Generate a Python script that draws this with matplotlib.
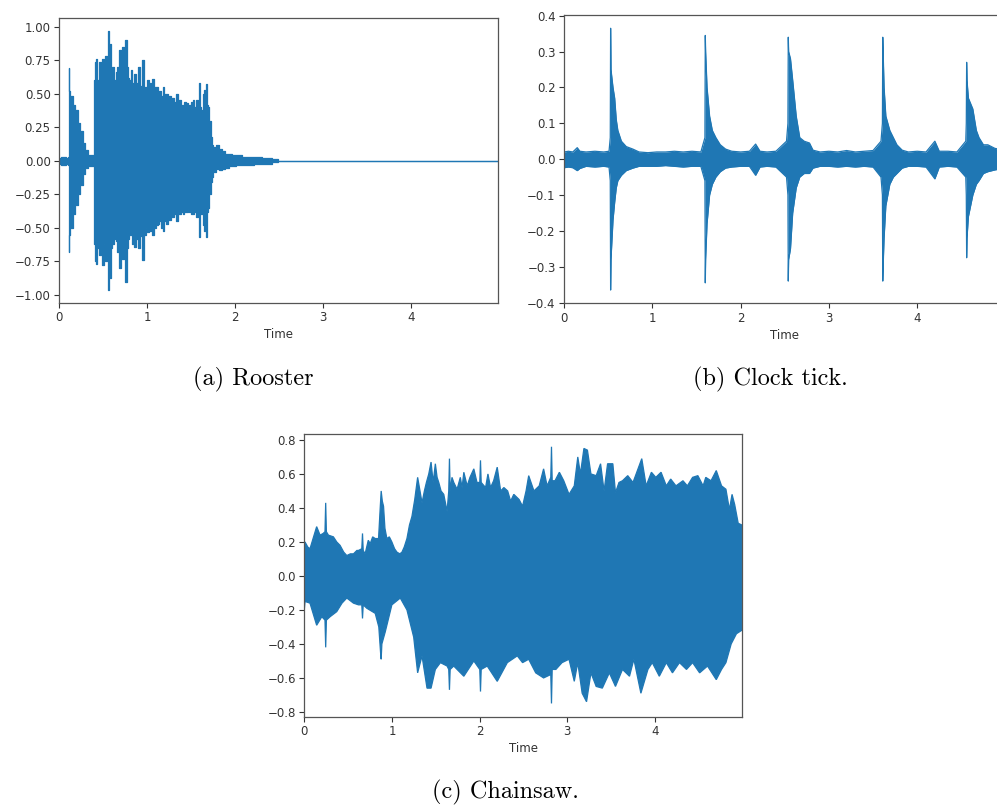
import numpy as np
import matplotlib
matplotlib.use("Agg")
import matplotlib.pyplot as plt

# ---------------- data (envelopes) ----------------
# (a) Rooster: time (s), upper envelope, lower envelope
rooster_t = [0.00, 0.05, 0.10, 0.110, 0.114, 0.120, 0.141, 0.170, 0.198, 0.230, 0.255, 0.285,
             0.312, 0.350, 0.388, 0.400, 0.407, 0.415, 0.426, 0.440, 0.464, 0.480, 0.502, 0.515,
             0.532, 0.548, 0.559, 0.570, 0.589, 0.600, 0.616, 0.635, 0.654, 0.675, 0.692, 0.710,
             0.730, 0.745, 0.760, 0.775, 0.787, 0.805, 0.825, 0.845, 0.863, 0.885, 0.913, 0.935,
             0.958, 0.975, 0.996, 1.015, 1.034, 1.050, 1.072, 1.090, 1.110, 1.130, 1.148, 1.170,
             1.186, 1.205, 1.224, 1.245, 1.262, 1.280, 1.300, 1.320, 1.338, 1.360, 1.376, 1.395,
             1.414, 1.435, 1.452, 1.475, 1.490, 1.510, 1.529, 1.550, 1.567, 1.585, 1.597, 1.610,
             1.624, 1.640, 1.650, 1.660, 1.673, 1.690, 1.700, 1.719, 1.730, 1.738, 1.760, 1.776,
             1.800, 1.833, 1.870, 1.909, 1.950, 1.985, 2.050, 2.100, 2.175, 2.250, 2.365, 2.479,
             2.500, 4.990]
rooster_up = [0.02, 0.03, 0.02, 0.03, 0.69, 0.52, 0.48, 0.42, 0.38, 0.28, 0.22, 0.13,
              0.08, 0.04, 0.04, 0.30, 0.60, 0.74, 0.76, 0.60, 0.74, 0.62, 0.76, 0.65,
              0.78, 0.70, 0.97, 0.72, 0.87, 0.65, 0.70, 0.60, 0.66, 0.70, 0.83, 0.72,
              0.85, 0.68, 0.90, 0.70, 0.62, 0.60, 0.68, 0.58, 0.65, 0.58, 0.70, 0.56,
              0.75, 0.55, 0.55, 0.60, 0.58, 0.52, 0.61, 0.55, 0.55, 0.50, 0.52, 0.48,
              0.55, 0.50, 0.50, 0.46, 0.48, 0.45, 0.47, 0.44, 0.50, 0.44, 0.45, 0.42,
              0.42, 0.44, 0.43, 0.41, 0.42, 0.44, 0.45, 0.40, 0.45, 0.42, 0.58, 0.40,
              0.38, 0.50, 0.53, 0.45, 0.57, 0.42, 0.40, 0.30, 0.18, 0.12, 0.10, 0.08,
              0.12, 0.09, 0.07, 0.05, 0.05, 0.04, 0.04, 0.03, 0.03, 0.03, 0.02, 0.01,
              0.0, 0.0]
rooster_lo = [-0.02, -0.03, -0.02, -0.03, -0.68, -0.55, -0.50, -0.40, -0.33, -0.25, -0.18, -0.10,
              -0.05, -0.04, -0.04, -0.30, -0.62, -0.75, -0.77, -0.65, -0.70, -0.68, -0.78, -0.62,
              -0.75, -0.72, -0.96, -0.70, -0.87, -0.65, -0.62, -0.58, -0.60, -0.68, -0.80, -0.70,
              -0.73, -0.65, -0.90, -0.65, -0.58, -0.55, -0.55, -0.62, -0.64, -0.58, -0.65, -0.56,
              -0.74, -0.55, -0.50, -0.53, -0.52, -0.48, -0.55, -0.50, -0.48, -0.47, -0.45, -0.50,
              -0.52, -0.45, -0.47, -0.44, -0.44, -0.42, -0.42, -0.40, -0.45, -0.40, -0.40, -0.38,
              -0.40, -0.38, -0.38, -0.36, -0.38, -0.40, -0.40, -0.38, -0.42, -0.40, -0.57, -0.40,
              -0.40, -0.48, -0.52, -0.45, -0.57, -0.38, -0.35, -0.25, -0.16, -0.12, -0.08, -0.08,
              -0.06, -0.07, -0.06, -0.05, -0.04, -0.04, -0.03, -0.03, -0.03, -0.02, -0.02, -0.01,
              0.0, 0.0]

# (b) Clock tick
clock_t = [0.00, 0.05, 0.10, 0.15, 0.18, 0.25, 0.35, 0.45, 0.51, 0.524, 0.528, 0.532,
           0.555, 0.574, 0.592, 0.61, 0.65, 0.705, 0.78, 0.85, 0.95, 1.05, 1.15, 1.25,
           1.35, 1.45, 1.55, 1.596, 1.60, 1.604, 1.620, 1.649, 1.68, 1.72, 1.77, 1.83, 1.90,
           2.00, 2.10, 2.17, 2.22, 2.30, 2.40, 2.52, 2.536, 2.540, 2.544, 2.565, 2.59, 2.63, 2.67,
           2.72, 2.78, 2.82, 2.90, 3.00, 3.10, 3.20, 3.30, 3.40, 3.50, 3.59, 3.606, 3.61,
           3.614, 3.625, 3.645, 3.69, 3.73, 3.77, 3.83, 3.90, 4.00, 4.10, 4.20, 4.25, 4.35,
           4.45, 4.55, 4.556, 4.56, 4.564, 4.58, 4.63, 4.67, 4.70, 4.75, 4.80, 4.88, 4.99]
clock_up = [0.020, 0.022, 0.020, 0.032, 0.022, 0.020, 0.022, 0.020, 0.022, 0.06, 0.365, 0.25,
            0.20, 0.17, 0.11, 0.08, 0.05, 0.035, 0.028, 0.020, 0.018, 0.020, 0.020, 0.022,
            0.020, 0.022, 0.020, 0.06, 0.345, 0.30, 0.20, 0.12, 0.08, 0.06, 0.04, 0.028, 0.022,
            0.020, 0.022, 0.042, 0.022, 0.020, 0.022, 0.05, 0.10, 0.34, 0.30, 0.28, 0.22, 0.12, 0.06,
            0.05, 0.045, 0.025, 0.020, 0.022, 0.020, 0.024, 0.020, 0.022, 0.024, 0.05, 0.10, 0.34,
            0.30, 0.20, 0.12, 0.08, 0.06, 0.04, 0.025, 0.020, 0.022, 0.020, 0.05, 0.022, 0.022,
            0.020, 0.05, 0.10, 0.27, 0.22, 0.17, 0.14, 0.08, 0.06, 0.04, 0.04, 0.03, 0.025]
clock_lo = [-0.024, -0.022, -0.024, -0.032, -0.026, -0.020, -0.022, -0.020, -0.022, -0.06, -0.365, -0.28,
            -0.17, -0.12, -0.08, -0.06, -0.045, -0.032, -0.025, -0.020, -0.020, -0.020, -0.018, -0.020,
            -0.022, -0.020, -0.020, -0.06, -0.345, -0.28, -0.18, -0.10, -0.07, -0.05, -0.035, -0.025, -0.022,
            -0.020, -0.020, -0.045, -0.022, -0.020, -0.022, -0.05, -0.10, -0.34, -0.28, -0.25, -0.15, -0.08, -0.05,
            -0.04, -0.04, -0.025, -0.020, -0.020, -0.022, -0.020, -0.022, -0.020, -0.022, -0.05, -0.10, -0.34,
            -0.30, -0.22, -0.13, -0.07, -0.05, -0.04, -0.025, -0.020, -0.020, -0.022, -0.055, -0.022, -0.020,
            -0.022, -0.05, -0.10, -0.275, -0.22, -0.16, -0.10, -0.07, -0.06, -0.04, -0.035, -0.03, -0.025]

# (c) Chainsaw: upper envelope and lower envelope, each with its own time points
saw_up_t = [0.000, 0.008, 0.040, 0.065, 0.100, 0.141, 0.180, 0.215, 0.236, 0.244, 0.252, 0.275,
            0.332, 0.370, 0.408, 0.450, 0.485, 0.525, 0.561, 0.600, 0.618, 0.656, 0.664, 0.672,
            0.694, 0.730, 0.752, 0.780, 0.809, 0.847, 0.866, 0.877, 0.890, 0.904, 0.920, 0.942,
            0.970, 0.999, 1.030, 1.057, 1.090, 1.114, 1.140, 1.171, 1.200, 1.228, 1.260, 1.293,
            1.320, 1.343, 1.370, 1.393, 1.420, 1.446, 1.470, 1.495, 1.515, 1.534, 1.560, 1.591,
            1.629, 1.648, 1.656, 1.664, 1.685, 1.705, 1.743, 1.780, 1.800, 1.820, 1.858, 1.890,
            1.934, 1.970, 2.002, 2.010, 2.018, 2.068, 2.095, 2.125, 2.160, 2.201, 2.240, 2.277,
            2.320, 2.354, 2.390, 2.410, 2.450, 2.490, 2.530, 2.560, 2.620, 2.680, 2.730, 2.770,
            2.812, 2.820, 2.828, 2.860, 2.910, 2.960, 3.020, 3.080, 3.120, 3.150, 3.190, 3.230,
            3.270, 3.330, 3.380, 3.420, 3.460, 3.520, 3.550, 3.590, 3.630, 3.690, 3.750, 3.800,
            3.850, 3.900, 3.960, 4.010, 4.070, 4.130, 4.180, 4.240, 4.320, 4.370, 4.430, 4.490,
            4.550, 4.580, 4.640, 4.700, 4.760, 4.810, 4.850, 4.880, 4.910, 4.950, 4.990]
saw_up = [0.19, 0.20, 0.17, 0.16, 0.22, 0.29, 0.24, 0.25, 0.26, 0.43, 0.26, 0.24,
          0.23, 0.20, 0.18, 0.14, 0.12, 0.13, 0.13, 0.15, 0.15, 0.16, 0.25, 0.15,
          0.13, 0.21, 0.19, 0.23, 0.22, 0.22, 0.40, 0.50, 0.44, 0.41, 0.28, 0.22,
          0.23, 0.20, 0.16, 0.14, 0.13, 0.14, 0.17, 0.22, 0.30, 0.35, 0.45, 0.58,
          0.50, 0.43, 0.50, 0.55, 0.60, 0.67, 0.55, 0.66, 0.58, 0.55, 0.50, 0.48,
          0.38, 0.50, 0.69, 0.50, 0.58, 0.55, 0.51, 0.58, 0.52, 0.61, 0.53, 0.58,
          0.63, 0.55, 0.55, 0.68, 0.55, 0.52, 0.60, 0.52, 0.56, 0.64, 0.50, 0.52,
          0.50, 0.44, 0.48, 0.47, 0.45, 0.41, 0.50, 0.59, 0.50, 0.53, 0.63, 0.53,
          0.58, 0.76, 0.56, 0.56, 0.61, 0.56, 0.48, 0.53, 0.70, 0.60, 0.75, 0.74,
          0.60, 0.59, 0.66, 0.50, 0.66, 0.66, 0.49, 0.55, 0.56, 0.59, 0.55, 0.62,
          0.69, 0.53, 0.61, 0.58, 0.61, 0.53, 0.57, 0.53, 0.56, 0.53, 0.58, 0.59,
          0.53, 0.58, 0.56, 0.62, 0.53, 0.51, 0.39, 0.48, 0.42, 0.31, 0.30]
saw_lo_t = [0.000, 0.008, 0.065, 0.141, 0.200, 0.236, 0.244, 0.252, 0.294, 0.370, 0.430, 0.485,
            0.561, 0.618, 0.656, 0.664, 0.672, 0.713, 0.809, 0.850, 0.870, 0.877, 0.885, 0.923,
            0.999, 1.095, 1.171, 1.248, 1.293, 1.343, 1.400, 1.446, 1.495, 1.553, 1.629, 1.648,
            1.656, 1.664, 1.705, 1.820, 1.934, 2.002, 2.010, 2.018, 2.087, 2.201, 2.316, 2.430,
            2.490, 2.560, 2.640, 2.730, 2.812, 2.820, 2.828, 2.870, 2.940, 3.020, 3.080, 3.120,
            3.170, 3.220, 3.270, 3.330, 3.400, 3.480, 3.550, 3.630, 3.710, 3.760, 3.840, 3.920,
            3.970, 4.050, 4.130, 4.200, 4.280, 4.360, 4.430, 4.510, 4.600, 4.700, 4.760, 4.810,
            4.870, 4.930, 4.990]
saw_lo = [-0.20, -0.15, -0.16, -0.29, -0.24, -0.26, -0.42, -0.26, -0.24, -0.21, -0.16, -0.13,
          -0.16, -0.17, -0.17, -0.25, -0.17, -0.19, -0.22, -0.30, -0.45, -0.49, -0.40, -0.33,
          -0.17, -0.13, -0.20, -0.36, -0.57, -0.47, -0.66, -0.66, -0.55, -0.51, -0.53, -0.55,
          -0.67, -0.55, -0.53, -0.59, -0.50, -0.55, -0.68, -0.55, -0.53, -0.62, -0.51, -0.47,
          -0.51, -0.49, -0.57, -0.60, -0.58, -0.75, -0.55, -0.55, -0.51, -0.49, -0.62, -0.51,
          -0.69, -0.74, -0.57, -0.65, -0.66, -0.57, -0.65, -0.55, -0.59, -0.49, -0.69, -0.55,
          -0.51, -0.59, -0.51, -0.57, -0.51, -0.55, -0.51, -0.57, -0.53, -0.61, -0.55, -0.51,
          -0.40, -0.34, -0.32]

captions = ["(a) Rooster", "(b) Clock tick.", "(c) Chainsaw."]
xticks = [0, 1, 2, 3, 4]
yticks_a = [-1.00, -0.75, -0.50, -0.25, 0.00, 0.25, 0.50, 0.75, 1.00]
yticks_b = [-0.4, -0.3, -0.2, -0.1, 0.0, 0.1, 0.2, 0.3, 0.4]
yticks_c = [-0.8, -0.6, -0.4, -0.2, 0.0, 0.2, 0.4, 0.6, 0.8]

# ---------------- drawing ----------------
BLUE = "#1f77b4"
W, H = 997, 806
fig = plt.figure(figsize=(W / 100, H / 100), dpi=100)
fig.patch.set_facecolor("white")

def px_axes(left, top, right, bottom):
    return fig.add_axes([left / W, 1 - bottom / H, (right - left) / W, (bottom - top) / H])

def style(ax, yticks, fmt, ylim):
    ax.set_xlim(0, 4.99)
    ax.set_ylim(*ylim)
    ax.set_xticks(xticks)
    ax.set_xticklabels([str(v) for v in xticks])
    ax.set_yticks(yticks)
    ax.set_yticklabels([fmt.format(v).replace("-", "\u2212") for v in yticks])
    ax.tick_params(labelsize=8.5, colors="#333333", length=3.5, width=0.8, pad=2.5)
    for s in ax.spines.values():
        s.set_color("#555555")
        s.set_linewidth(0.9)
    ax.set_xlabel("Time", fontsize=8.5, color="#333333", labelpad=3)

axa = px_axes(59, 18, 498, 303)
axa.fill_between(rooster_t, rooster_lo, rooster_up, step="mid", color=BLUE, lw=0)
axa.plot(rooster_t, rooster_up, color=BLUE, lw=0.9, drawstyle="steps-mid")
axa.plot(rooster_t, rooster_lo, color=BLUE, lw=0.9, drawstyle="steps-mid")
style(axa, yticks_a, "{:.2f}", (-1.06, 1.065))

axb = px_axes(564, 15, 564 + 4.99 * 88.3, 303.3)
axb.fill_between(clock_t, clock_lo, clock_up, color=BLUE, lw=0)
axb.plot(clock_t, clock_up, color=BLUE, lw=0.9)
axb.plot(clock_t, clock_lo, color=BLUE, lw=0.9)
style(axb, yticks_b, "{:.1f}", (-0.402, 0.402))

axc = px_axes(304.3, 434, 741.7, 716.7)
poly_x = np.concatenate([saw_up_t, saw_lo_t[::-1]])
poly_y = np.concatenate([saw_up, saw_lo[::-1]])
axc.fill(poly_x, poly_y, facecolor=BLUE, edgecolor=BLUE, lw=0.9)
style(axc, yticks_c, "{:.1f}", (-0.828, 0.835))

cap_kw = dict(fontsize=17.5, family="cmr10", ha="center", va="center", color="black")
fig.text(253 / W, 1 - 379 / H, captions[0], **cap_kw)
fig.text(770 / W, 1 - 379 / H, captions[1], **cap_kw)
fig.text(505 / W, 1 - 792 / H, captions[2], **cap_kw)

fig.savefig("out.png", dpi=100)
